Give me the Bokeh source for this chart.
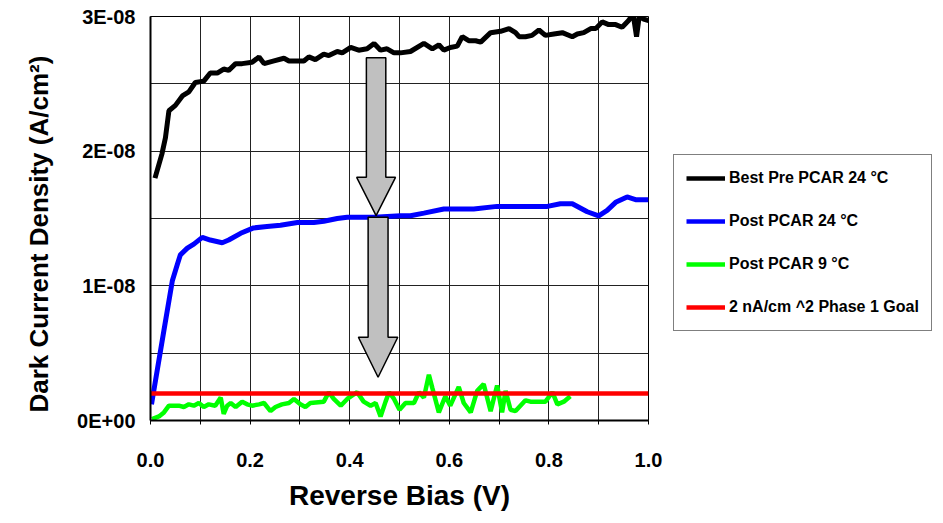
from bokeh.plotting import figure
from bokeh.models import FixedTicker, Legend, LegendItem, Range1d, Title
from bokeh.layouts import row
from bokeh.embed import file_html
from bokeh.resources import INLINE

# ---- data (y in units of 1E-08 A/cm^2) ----
pre24_x = [0.009, 0.023, 0.030, 0.037, 0.050, 0.064, 0.077, 0.090, 0.107, 0.120, 0.134, 0.147, 0.157,
           0.171, 0.184, 0.204, 0.218, 0.228, 0.248, 0.268, 0.278, 0.295, 0.308, 0.318, 0.331, 0.348,
           0.358, 0.375, 0.385, 0.402, 0.418, 0.435, 0.449, 0.462, 0.475, 0.489, 0.502, 0.522, 0.549,
           0.566, 0.579, 0.589, 0.602, 0.616, 0.626, 0.639, 0.653, 0.663, 0.683, 0.703, 0.720, 0.733,
           0.740, 0.753, 0.766, 0.780, 0.793, 0.810, 0.827, 0.847, 0.857, 0.870, 0.884, 0.894, 0.907,
           0.920, 0.934, 0.947, 0.960, 0.969, 0.976, 0.982, 0.990, 1.000]
pre24_y = [1.80, 1.98, 2.10, 2.30, 2.34, 2.41, 2.44, 2.51, 2.52, 2.58, 2.58, 2.61, 2.60,
           2.65, 2.65, 2.66, 2.70, 2.65, 2.67, 2.69, 2.67, 2.67, 2.67, 2.70, 2.68, 2.72,
           2.71, 2.74, 2.73, 2.77, 2.75, 2.76, 2.80, 2.75, 2.76, 2.73, 2.73, 2.74, 2.80,
           2.76, 2.79, 2.75, 2.77, 2.78, 2.85, 2.82, 2.82, 2.81, 2.88, 2.89, 2.91, 2.88,
           2.85, 2.85, 2.86, 2.90, 2.86, 2.87, 2.88, 2.85, 2.87, 2.88, 2.91, 2.91, 2.96,
           2.94, 2.94, 2.92, 2.97, 3.02, 2.85, 3.02, 2.98, 2.97]

post24_x = [0.002, 0.027, 0.044, 0.054, 0.060, 0.074, 0.087, 0.104, 0.120, 0.144, 0.157, 0.181,
            0.207, 0.234, 0.261, 0.295, 0.328, 0.348, 0.375, 0.395, 0.449, 0.502, 0.522, 0.549,
            0.589, 0.649, 0.696, 0.797, 0.823, 0.847, 0.877, 0.900, 0.917, 0.934, 0.957, 0.974, 1.000]
post24_y = [0.12, 0.67, 1.04, 1.16, 1.23, 1.28, 1.31, 1.36, 1.34, 1.32, 1.34, 1.39,
            1.43, 1.44, 1.45, 1.47, 1.47, 1.48, 1.50, 1.51, 1.51, 1.52, 1.52, 1.54,
            1.57, 1.57, 1.59, 1.59, 1.61, 1.61, 1.55, 1.52, 1.56, 1.62, 1.66, 1.64, 1.64]

post9_x = [0.003, 0.017, 0.027, 0.037, 0.057, 0.067, 0.077, 0.087, 0.097, 0.107, 0.117, 0.130,
           0.141, 0.147, 0.154, 0.161, 0.171, 0.184, 0.194, 0.204, 0.218, 0.228, 0.241, 0.251,
           0.264, 0.278, 0.288, 0.301, 0.311, 0.321, 0.348, 0.358, 0.368, 0.382, 0.395, 0.415,
           0.428, 0.442, 0.452, 0.462, 0.472, 0.479, 0.489, 0.500, 0.512, 0.529, 0.539, 0.549,
           0.559, 0.566, 0.579, 0.592, 0.602, 0.619, 0.629, 0.643, 0.656, 0.669, 0.683, 0.696,
           0.706, 0.713, 0.723, 0.733, 0.753, 0.763, 0.793, 0.807, 0.817, 0.830, 0.843]
post9_y = [0.01, 0.03, 0.06, 0.11, 0.11, 0.10, 0.12, 0.11, 0.13, 0.10, 0.12, 0.11,
           0.17, 0.05, 0.11, 0.13, 0.10, 0.14, 0.12, 0.11, 0.12, 0.13, 0.07, 0.10,
           0.12, 0.13, 0.16, 0.12, 0.10, 0.13, 0.14, 0.21, 0.16, 0.11, 0.16, 0.21,
           0.14, 0.11, 0.13, 0.03, 0.14, 0.21, 0.16, 0.08, 0.13, 0.13, 0.21, 0.17,
           0.34, 0.24, 0.06, 0.18, 0.11, 0.25, 0.13, 0.06, 0.22, 0.27, 0.07, 0.26,
           0.06, 0.22, 0.08, 0.07, 0.15, 0.14, 0.14, 0.21, 0.12, 0.14, 0.18]

goal_x = [0.0, 1.0]
goal_y = [0.2, 0.2]

series_names = ["Best Pre PCAR 24 \u00b0C", "Post PCAR 24 \u00b0C", "Post PCAR 9 \u00b0C",
                "2 nA/cm ^2 Phase 1 Goal"]
series_colors = ["#000000", "#0000FF", "#00FF00", "#FF0000"]

x_major = [0.0, 0.2, 0.4, 0.6, 0.8, 1.0]
x_minor = [0.1, 0.3, 0.5, 0.7, 0.9]
x_grid = [0.1, 0.2, 0.3, 0.4, 0.5, 0.6, 0.7, 0.8, 0.9]
y_major = [0, 1, 2, 3]
y_labels = ["0E+00", "1E-08", "2E-08", "3E-08"]
y_grid = [0.5, 1.0, 1.5, 2.0, 2.5]

# arrows: centre x, top of shaft, head base, tip, shaft half width, head half width
arrow_cx = [0.453, 0.457]
arrow_top = [2.693, 1.509]
arrow_base = [1.806, 0.618]
arrow_tip = [1.522, 0.321]
arrow_shaft_hw = [0.0195, 0.020]
arrow_head_hw = [0.039, 0.0395]

FONT = "Liberation Sans"

p = figure(width=672, height=515, x_range=Range1d(0, 1), y_range=Range1d(0, 3),
           output_backend="svg", toolbar_location=None,
           min_border_left=150, min_border_right=24, min_border_top=16, min_border_bottom=95)
p.background_fill_color = "white"
p.border_fill_color = "white"
p.outline_line_color = "black"
p.outline_line_width = 1

# grids
p.xgrid.ticker = FixedTicker(ticks=x_grid)
p.ygrid.ticker = FixedTicker(ticks=y_grid)
for g in (p.xgrid, p.ygrid):
    g.grid_line_color = "#222222"
    g.grid_line_width = 1

# axes
p.xaxis.ticker = FixedTicker(ticks=x_major, minor_ticks=x_minor)
p.xaxis.major_label_overrides = {v: f"{v:.1f}" for v in x_major}
p.yaxis.ticker = FixedTicker(ticks=y_major, minor_ticks=[])
p.yaxis.major_label_overrides = {v: s for v, s in zip(y_major, y_labels)}
p.xaxis.axis_label = "Reverse Bias (V)"
for ax in (p.xaxis, p.yaxis):
    ax.axis_line_color = "black"
    ax.axis_line_width = 2
    ax.major_tick_line_color = "black"
    ax.minor_tick_line_color = "black"
    ax.major_tick_in = 0
    ax.minor_tick_in = 0
    ax.major_label_text_font = FONT
    ax.major_label_text_font_style = "bold"
    ax.major_label_text_font_size = "20px"
    ax.major_label_text_color = "black"
    ax.axis_label_text_font = FONT
    ax.axis_label_text_font_style = "bold"
    ax.axis_label_text_color = "black"
p.xaxis.axis_label_text_font_size = "28px"
p.xaxis.major_tick_out = 4
p.xaxis.minor_tick_out = 4
p.xaxis.major_label_standoff = 28
p.xaxis.axis_label_standoff = 10
p.yaxis.major_tick_out = 0
p.yaxis.minor_tick_out = 0
p.yaxis.major_label_standoff = 15

# y-axis title, anchored near the bottom of the plot area as in the reference
ytitle = Title(text="Dark Current Density (A/cm\u00b2)", align="left", offset=8,
               text_font=FONT, text_font_style="bold", text_font_size="26px",
               text_color="black", standoff=41)
p.add_layout(ytitle, "left")

# series
r1 = p.line(pre24_x, pre24_y, line_color=series_colors[0], line_width=5)
r2 = p.line(post24_x, post24_y, line_color=series_colors[1], line_width=5)
r3 = p.line(post9_x, post9_y, line_color=series_colors[2], line_width=4.5)
r4 = p.line(goal_x, goal_y, line_color=series_colors[3], line_width=4.5)

# arrows
xs, ys = [], []
for cx, t, b, tip, sw, hw in zip(arrow_cx, arrow_top, arrow_base, arrow_tip, arrow_shaft_hw, arrow_head_hw):
    xs.append([cx - sw, cx + sw, cx + sw, cx + hw, cx, cx - hw, cx - sw])
    ys.append([t, t, b, b, tip, b, b])
p.patches(xs, ys, fill_color="#C0C0C0", line_color="black", line_width=1.5)

# legend panel (separate figure to the right of the chart)
q = figure(width=263, height=515, x_range=Range1d(0, 1), y_range=Range1d(0, 1),
           output_backend="svg", toolbar_location=None,
           min_border_left=0, min_border_right=0, min_border_top=0, min_border_bottom=0)
q.axis.visible = False
q.grid.visible = False
q.outline_line_color = None
q.background_fill_color = "white"
q.border_fill_color = "white"
nan = float("nan")
proxies = [q.line([nan, nan], [nan, nan], line_color=c, line_width=4.5) for c in series_colors]

legend = Legend(items=[LegendItem(label=n, renderers=[r]) for n, r in zip(series_names, proxies)],
                location=(1, 89))
legend.border_line_color = "black"
legend.border_line_width = 1
legend.background_fill_color = "white"
legend.background_fill_alpha = 1
legend.label_text_font = FONT
legend.label_text_font_style = "bold"
legend.label_text_font_size = "16px"
legend.label_text_color = "black"
legend.glyph_width = 39
legend.glyph_height = 22
legend.label_height = 22
legend.label_standoff = 4
legend.spacing = 21
legend.padding = 12
legend.margin = 0
q.add_layout(legend, "center")

layout = row(p, q)
open("out.html", "w").write(file_html(layout, INLINE))
